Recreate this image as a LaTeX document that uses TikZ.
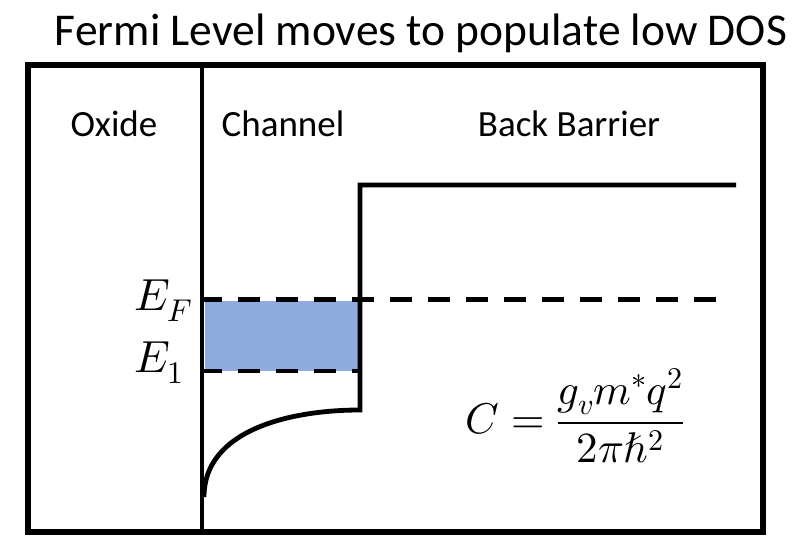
\documentclass[tikz,border=0pt]{standalone}
\usepackage{fontspec}
\usepackage{unicode-math}
\setmainfont{Carlito}
\setmathfont{Latin Modern Math}
\begin{document}
\begin{tikzpicture}[x=1pt,y=-1pt,
  thick line/.style={line width=4.8pt},
  dashline/.style={line width=4.8pt, dash pattern=on 22pt off 16pt},
  lbl/.style={font=\fontsize{37}{40}\selectfont, inner sep=0pt},
  mlbl/.style={font=\fontsize{45}{50}\selectfont, inner sep=0pt}]
\useasboundingbox (0,0) rectangle (797,535);
% title
\node[font=\fontsize{45.5}{50}\selectfont, inner sep=0pt, anchor=base] (title) at (421,46) {Fermi Level moves to populate low DOS};
% blue band
\fill[fill={rgb,255:red,143;green,170;blue,220}] (205,301) rectangle (358,371);
% outer frame
\draw[line width=5.2pt] (28,65) rectangle (763,532);
% oxide/channel divider
\coordinate (dtop) at (202,65);
\coordinate (dbot) at (202,532);
\draw[thick line] (dtop) -- (dbot);
% region labels
\node[lbl, anchor=base] (oxide) at (114,136) {Oxide};
\node[lbl, anchor=base] (channel) at (283,136) {Channel};
\node[lbl, anchor=base] (back) at (569,136) {Back Barrier};
% dashed levels
\coordinate (efa) at (200,299.5);
\coordinate (efb) at (718,299.5);
\draw[dashline] (efa) -- (efb);
\coordinate (e1a) at (200,371);
\coordinate (e1b) at (360,371);
\draw[dashline] (e1a) -- (e1b);
% band profile
\coordinate (cs) at (204,497);
\coordinate (ce) at (360,410);
\coordinate (bt) at (360,185);
\coordinate (br) at (736,185);
\draw[thick line, line join=miter] (cs) .. controls (204,430) and (290,410) .. (ce) -- (bt) -- (br);
% level labels
\node[mlbl, anchor=base west] (ef) at (134,310) {$E_F$};
\node[mlbl, anchor=base west] (e1) at (134,372) {$E_1$};
% formula
\node[font=\fontsize{43}{48}\selectfont, inner sep=0pt, anchor=west] (eq) at (465,416) {$\displaystyle C=\frac{g_v m^{*} q^{2}}{2\pi\hbar^{2}}$};
\end{tikzpicture}
\end{document}
